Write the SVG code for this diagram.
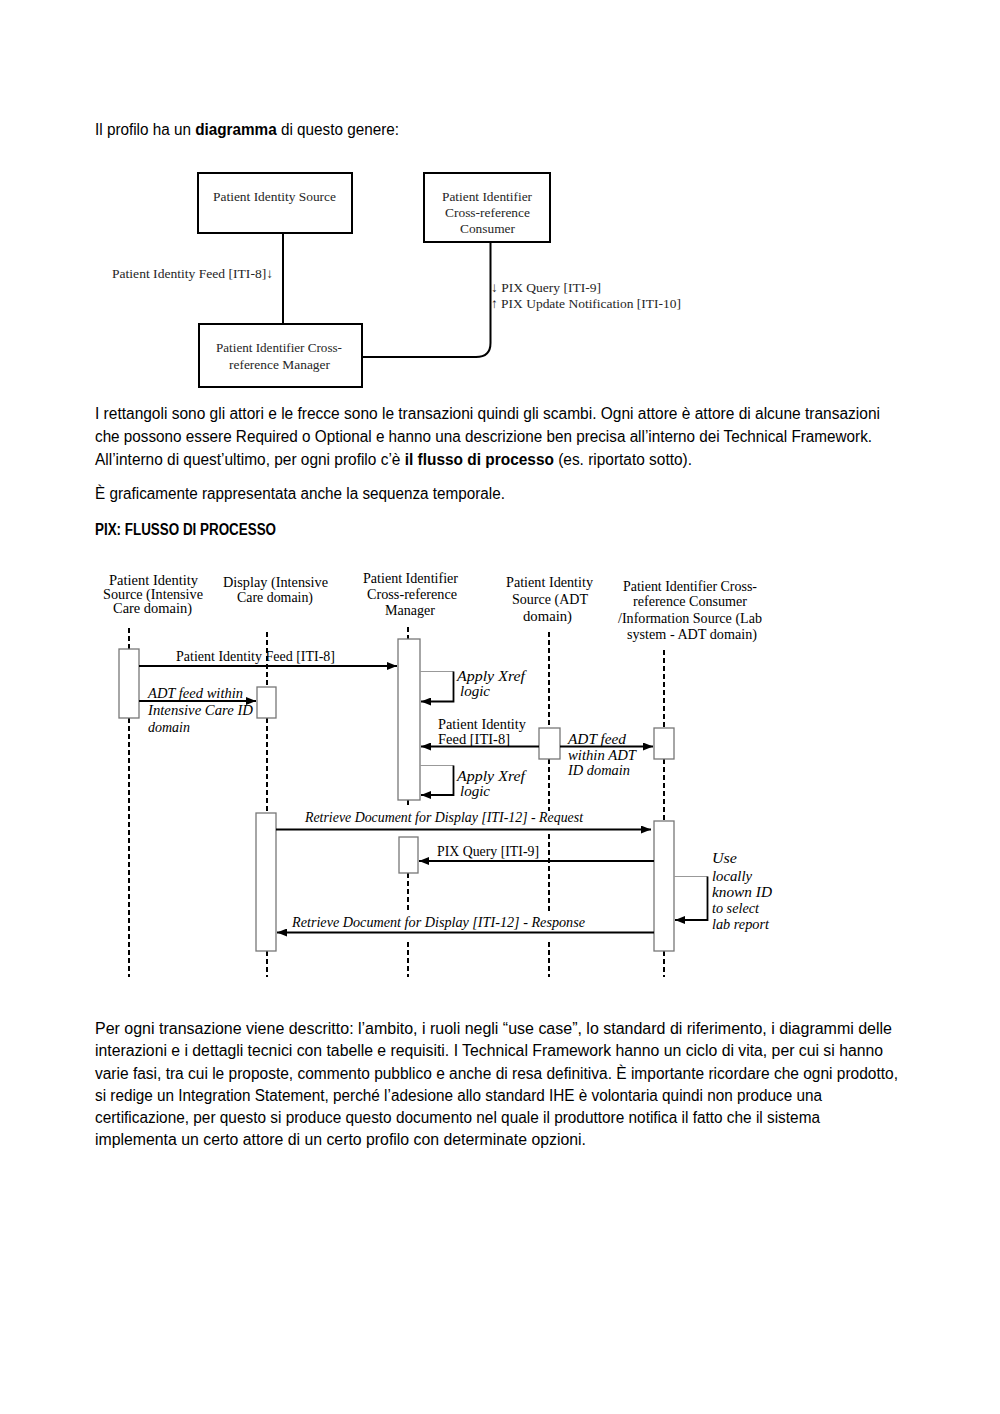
<svg xmlns="http://www.w3.org/2000/svg" width="1000" height="1414" viewBox="0 0 1000 1414">
<defs>
<style>
.p{font-family:"Liberation Sans",Arial,sans-serif;font-size:16px;fill:#000}
.b{font-weight:bold}
.t{font-family:"Liberation Serif","Times New Roman",serif;font-size:13.5px;fill:#262626}
.s{font-family:"Liberation Serif","Times New Roman",serif;font-size:14.5px;fill:#000}
.i{font-style:italic}
.box{fill:#fff;stroke:#000;stroke-width:2}
.act{fill:#fff;stroke:#777;stroke-width:1.3}
.ll{stroke:#000;stroke-width:2;stroke-dasharray:5 3;fill:none}
.line{stroke:#000;stroke-width:2;fill:none}
.msg{stroke:#000;stroke-width:1.8;fill:none;marker-end:url(#ah)}
.grey{stroke:#999;stroke-width:1.2;fill:none}
</style>
<marker id="ah" viewBox="0 0 10 8" refX="10" refY="4" markerWidth="10" markerHeight="8" markerUnits="userSpaceOnUse" orient="auto"><path d="M0,0 L10,4 L0,8 z" fill="#000"/></marker>
</defs>
<rect width="1000" height="1414" fill="#fff"/>

<!-- paragraph text -->
<text class="p" x="95" y="135" textLength="304" lengthAdjust="spacingAndGlyphs">Il profilo ha un <tspan class="b">diagramma</tspan> di questo genere:</text>
<text class="p" x="95" y="419" textLength="785" lengthAdjust="spacingAndGlyphs">I rettangoli sono gli attori e le frecce sono le transazioni quindi gli scambi. Ogni attore è attore di alcune transazioni</text>
<text class="p" x="95" y="442" textLength="777" lengthAdjust="spacingAndGlyphs">che possono essere Required o Optional e hanno una descrizione ben precisa all’interno dei Technical Framework.</text>
<text class="p" x="95" y="465" textLength="597" lengthAdjust="spacingAndGlyphs">All’interno di quest’ultimo, per ogni profilo c’è <tspan class="b">il flusso di processo</tspan> (es. riportato sotto).</text>
<text class="p" x="95" y="499" textLength="410" lengthAdjust="spacingAndGlyphs">È graficamente rappresentata anche la sequenza temporale.</text>
<text class="p b" x="95" y="535" textLength="181" lengthAdjust="spacingAndGlyphs">PIX: FLUSSO DI PROCESSO</text>

<text class="p" x="95" y="1034" textLength="797" lengthAdjust="spacingAndGlyphs">Per ogni transazione viene descritto: l’ambito, i ruoli negli “use case”, lo standard di riferimento, i diagrammi delle</text>
<text class="p" x="95" y="1056" textLength="788" lengthAdjust="spacingAndGlyphs">interazioni e i dettagli tecnici con tabelle e requisiti. I Technical Framework hanno un ciclo di vita, per cui si hanno</text>
<text class="p" x="95" y="1079" textLength="803" lengthAdjust="spacingAndGlyphs">varie fasi, tra cui le proposte, commento pubblico e anche di resa definitiva. È importante ricordare che ogni prodotto,</text>
<text class="p" x="95" y="1101" textLength="727" lengthAdjust="spacingAndGlyphs">si redige un Integration Statement, perché l’adesione allo standard IHE è volontaria quindi non produce una</text>
<text class="p" x="95" y="1123" textLength="725" lengthAdjust="spacingAndGlyphs">certificazione, per questo si produce questo documento nel quale il produttore notifica il fatto che il sistema</text>
<text class="p" x="95" y="1145" textLength="491" lengthAdjust="spacingAndGlyphs">implementa un certo attore di un certo profilo con determinate opzioni.</text>

<!-- top actor diagram -->
<g id="connectors-top">
<path class="line" d="M283,233 V323"/>
<path class="line" d="M490.5,242.5 V343 Q490.5,357 476,357 H362"/>
<text class="t" x="112" y="278" textLength="161" lengthAdjust="spacingAndGlyphs">Patient Identity Feed [ITI-8]↓</text>
<text class="t" x="491" y="292" textLength="110" lengthAdjust="spacingAndGlyphs">↓ PIX Query [ITI-9]</text>
<text class="t" x="491" y="308" textLength="190" lengthAdjust="spacingAndGlyphs">↑ PIX Update Notification [ITI-10]</text>
</g>
<g id="node-pis">
<rect class="box" x="198" y="173" width="154" height="60"/>
<text class="t" x="213" y="201" textLength="123" lengthAdjust="spacingAndGlyphs">Patient Identity Source</text>
</g>
<g id="node-consumer">
<rect class="box" x="424" y="173" width="126" height="69"/>
<text class="t" x="442" y="201" textLength="90" lengthAdjust="spacingAndGlyphs">Patient Identifier</text>
<text class="t" x="445" y="217" textLength="85" lengthAdjust="spacingAndGlyphs">Cross-reference</text>
<text class="t" x="460" y="233" textLength="55" lengthAdjust="spacingAndGlyphs">Consumer</text>
</g>
<g id="node-manager">
<rect class="box" x="199" y="324" width="163" height="63"/>
<text class="t" x="216" y="352" textLength="126" lengthAdjust="spacingAndGlyphs">Patient Identifier Cross-</text>
<text class="t" x="229" y="369" textLength="101" lengthAdjust="spacingAndGlyphs">reference Manager</text>
</g>

<!-- sequence diagram lifelines -->
<g id="lifeline-pis-icu">
<text class="s" x="109" y="585" textLength="89" lengthAdjust="spacingAndGlyphs">Patient Identity</text>
<text class="s" x="103" y="599" textLength="100" lengthAdjust="spacingAndGlyphs">Source (Intensive</text>
<text class="s" x="113" y="613" textLength="79" lengthAdjust="spacingAndGlyphs">Care domain)</text>
<path class="ll" d="M129,628 V649 M129,718 V977"/>
<rect class="act" x="119" y="649" width="20" height="69"/>
</g>
<g id="lifeline-display">
<text class="s" x="223" y="587" textLength="105" lengthAdjust="spacingAndGlyphs">Display (Intensive</text>
<text class="s" x="237" y="602" textLength="76" lengthAdjust="spacingAndGlyphs">Care domain)</text>
<path class="ll" d="M267,632 V687 M267,718 V813 M267,951 V977"/>
<rect class="act" x="257" y="687" width="19" height="31"/>
<rect class="act" x="256" y="813" width="20" height="138"/>
</g>
<g id="lifeline-manager">
<text class="s" x="363" y="583" textLength="95" lengthAdjust="spacingAndGlyphs">Patient Identifier</text>
<text class="s" x="367" y="599" textLength="90" lengthAdjust="spacingAndGlyphs">Cross-reference</text>
<text class="s" x="385" y="615" textLength="50" lengthAdjust="spacingAndGlyphs">Manager</text>
<path class="ll" d="M408,627 V639 M408,800 V807 M408,873 V911 M408,942 V977"/>
<rect class="act" x="398" y="639" width="22" height="161"/>
<rect class="act" x="399" y="837" width="19" height="36"/>
</g>
<g id="lifeline-pis-adt">
<text class="s" x="506" y="587" textLength="87" lengthAdjust="spacingAndGlyphs">Patient Identity</text>
<text class="s" x="512" y="604" textLength="76" lengthAdjust="spacingAndGlyphs">Source (ADT</text>
<text class="s" x="523" y="621" textLength="49" lengthAdjust="spacingAndGlyphs">domain)</text>
<path class="ll" d="M549,632 V728 M549,759 V811 M549,834 V911 M549,942 V977"/>
<rect class="act" x="539" y="728" width="21" height="31"/>
</g>
<g id="lifeline-consumer">
<text class="s" x="623" y="591" textLength="134" lengthAdjust="spacingAndGlyphs">Patient Identifier Cross-</text>
<text class="s" x="633" y="606" textLength="114" lengthAdjust="spacingAndGlyphs">reference Consumer</text>
<text class="s" x="618" y="623" textLength="144" lengthAdjust="spacingAndGlyphs">/Information Source (Lab</text>
<text class="s" x="627" y="639" textLength="130" lengthAdjust="spacingAndGlyphs">system - ADT domain)</text>
<path class="ll" d="M664,650 V728 M664,759 V821 M664,951 V977"/>
<rect class="act" x="654" y="728" width="20" height="31"/>
<rect class="act" x="654" y="821" width="20" height="130"/>
</g>

<!-- messages -->
<g id="connectors">
<path class="msg" d="M139,666 H397"/>
<text class="s" x="176" y="661" textLength="159" lengthAdjust="spacingAndGlyphs">Patient Identity Feed [ITI-8]</text>

<path class="msg" d="M139,701 H256"/>
<text class="s i" x="148" y="698" textLength="95" lengthAdjust="spacingAndGlyphs">ADT feed within</text>
<text class="s i" x="148" y="715" textLength="105" lengthAdjust="spacingAndGlyphs">Intensive Care ID</text>
<text class="s i" x="148" y="732" textLength="42" lengthAdjust="spacingAndGlyphs">domain</text>

<path class="grey" d="M420,671.5 H453.5"/>
<path class="msg" d="M453.5,671.5 V701.5 H421"/>
<text class="s i" x="457" y="681" textLength="68" lengthAdjust="spacingAndGlyphs">Apply Xref</text>
<text class="s i" x="460" y="696" textLength="30" lengthAdjust="spacingAndGlyphs">logic</text>

<path class="msg" d="M539,746.5 H421"/>
<text class="s" x="438" y="729" textLength="88" lengthAdjust="spacingAndGlyphs">Patient Identity</text>
<text class="s" x="438" y="744" textLength="72" lengthAdjust="spacingAndGlyphs">Feed [ITI-8]</text>

<path class="msg" d="M560,746.5 H653"/>
<text class="s i" x="568" y="744" textLength="58" lengthAdjust="spacingAndGlyphs">ADT feed</text>
<text class="s i" x="568" y="760" textLength="68" lengthAdjust="spacingAndGlyphs">within ADT</text>
<text class="s i" x="568" y="775" textLength="62" lengthAdjust="spacingAndGlyphs">ID domain</text>

<path class="grey" d="M420,765.5 H453.5"/>
<path class="msg" d="M453.5,765.5 V795 H421"/>
<text class="s i" x="457" y="781" textLength="68" lengthAdjust="spacingAndGlyphs">Apply Xref</text>
<text class="s i" x="460" y="796" textLength="30" lengthAdjust="spacingAndGlyphs">logic</text>

<path class="msg" d="M276,829.5 H651"/>
<text class="s i" x="305" y="822" textLength="278" lengthAdjust="spacingAndGlyphs">Retrieve Document for Display [ITI-12] - Request</text>

<path class="msg" d="M654,861 H419"/>
<text class="s" x="437" y="856" textLength="102" lengthAdjust="spacingAndGlyphs">PIX Query [ITI-9]</text>

<path class="grey" d="M674,876.5 H707.5"/>
<path class="msg" d="M707.5,876.5 V920 H675"/>
<text class="s i" x="712" y="863" textLength="25" lengthAdjust="spacingAndGlyphs">Use</text>
<text class="s i" x="712" y="881" textLength="40" lengthAdjust="spacingAndGlyphs">locally</text>
<text class="s i" x="712" y="897" textLength="60" lengthAdjust="spacingAndGlyphs">known ID</text>
<text class="s i" x="712" y="913" textLength="47" lengthAdjust="spacingAndGlyphs">to select</text>
<text class="s i" x="712" y="929" textLength="57" lengthAdjust="spacingAndGlyphs">lab report</text>

<path class="msg" d="M654,932.5 H277"/>
<text class="s i" x="292" y="927" textLength="293" lengthAdjust="spacingAndGlyphs">Retrieve Document for Display [ITI-12] - Response</text>
</g>
</svg>
